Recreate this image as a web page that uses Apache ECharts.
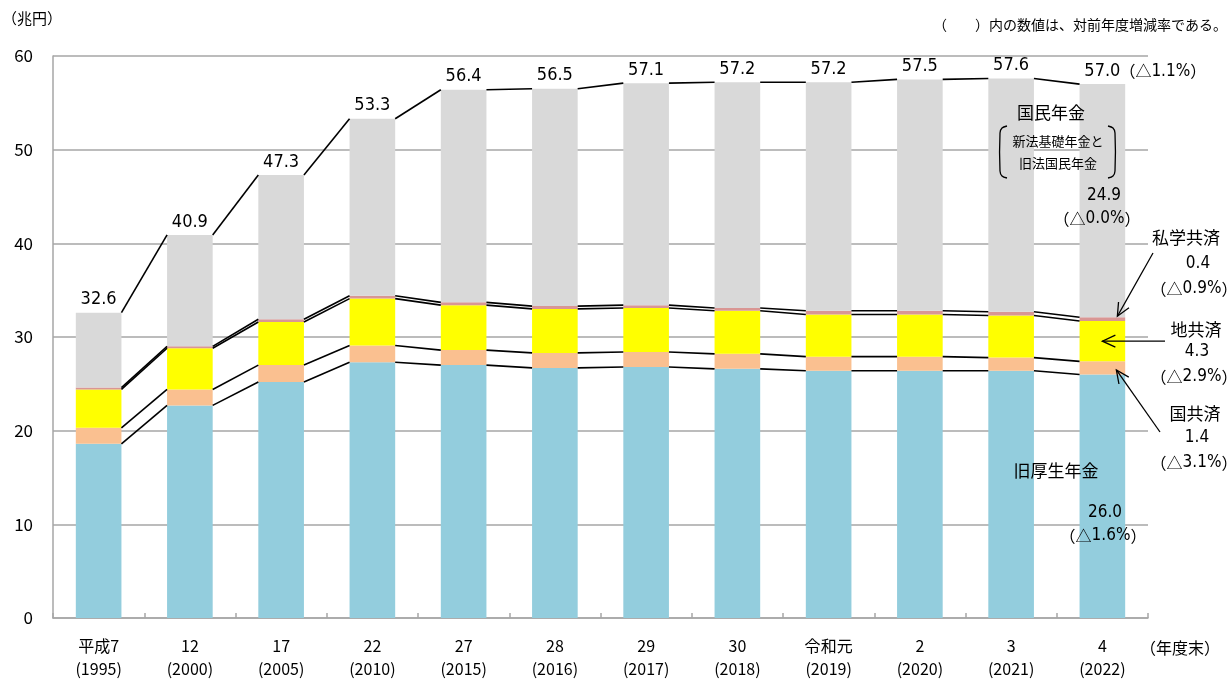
<!DOCTYPE html>
<html>
<head>
<meta charset="utf-8">
<script src="https://cdn.jsdelivr.net/npm/echarts@6/dist/echarts.min.js"></script>
<style>
  html, body { margin: 0; padding: 0; background: #fff; }
  #chart { width: 1232px; height: 680px; }
</style>
</head>
<body>
<div id="chart"></div>
<script>
// 年度末の公的年金 年金総額（兆円）
const categories = [
  '平成7\n(1995)', '12\n(2000)', '17\n(2005)', '22\n(2010)', '27\n(2015)', '28\n(2016)',
  '29\n(2017)', '30\n(2018)', '令和元\n(2019)', '2\n(2020)', '3\n(2021)', '4\n(2022)'
];
const kyuKosei      = [18.6, 22.7, 25.2, 27.3, 27.0, 26.7, 26.8, 26.6, 26.4, 26.4, 26.4, 26.0];
const kokuKyosai    = [1.7, 1.7, 1.8, 1.8, 1.6, 1.6, 1.6, 1.6, 1.5, 1.5, 1.4, 1.4];
const chiKyosai     = [4.1, 4.4, 4.6, 5.0, 4.8, 4.7, 4.7, 4.6, 4.5, 4.5, 4.5, 4.3];
const shigakuKyosai = [0.2, 0.2, 0.3, 0.3, 0.3, 0.3, 0.3, 0.3, 0.4, 0.4, 0.4, 0.4];
const kokuminNenkin = [8.0, 11.9, 15.4, 18.9, 22.7, 23.2, 23.7, 24.1, 24.4, 24.7, 24.9, 24.9];
// 対前年度増減率（最新年度、△は減少）
const changeTotal = '1.1%';
const changeKokumin = '0.0%';
const changeShigaku = '0.9%';
const changeChi = '2.9%';
const changeKoku = '3.1%';
const changeKyuKosei = '1.6%';
const yTickStep = 10;

const CJK = "'Noto Sans CJK JP', sans-serif";
const NARROW = "'Liberation Sans Narrow', 'Arial Narrow', 'DejaVu Sans Condensed', 'Noto Sans CJK JP', sans-serif";
const GRID_COLOR = '#a6a6a6';

const layers = [
  { name: '旧厚生年金', data: kyuKosei, color: '#93CDDD' },
  { name: '国共済', data: kokuKyosai, color: '#FAC090' },
  { name: '地共済', data: chiKyosai, color: '#FFFF00' },
  { name: '私学共済', data: shigakuKyosai, color: '#D99694' },
  { name: '国民年金', data: kokuminNenkin, color: '#D9D9D9' }
];

const n = categories.length;
const totals = categories.map((_, i) => layers.reduce((s, l) => s + l.data[i], 0));

// 各区分の上端を隣の棒と結ぶ線
const connectors = [];
let cum = categories.map(() => 0);
layers.forEach(l => {
  cum = cum.map((c, i) => c + l.data[i]);
  for (let i = 0; i < n - 1; i++) connectors.push([i, cum[i], cum[i + 1]]);
});

const barSeries = layers.map((l, k) => ({
  type: 'bar',
  name: l.name,
  stack: 'total',
  data: l.data,
  barWidth: '50%',
  itemStyle: { color: l.color },
  z: 2,
  label: k === layers.length - 1 ? {
    show: true,
    position: 'top',
    distance: 4,
    color: '#000',
    fontSize: 18,
    fontFamily: NARROW,
    formatter: p => totals[p.dataIndex].toFixed(1)
  } : { show: false }
}));

const chart = echarts.init(document.getElementById('chart'), null, { renderer: 'canvas' });

chart.setOption({
  animation: false,
  backgroundColor: '#fff',
  grid: { left: 53, right: 84, top: 56, bottom: 60, containLabel: false },
  xAxis: {
    type: 'category',
    data: categories,
    boundaryGap: true,
    axisLine: { lineStyle: { color: GRID_COLOR, width: 1.5 } },
    axisTick: { show: true, inside: true, length: 5, interval: 0, lineStyle: { color: GRID_COLOR, width: 1.5 } },
    axisLabel: { interval: 0, margin: 16, fontSize: 16, lineHeight: 23, color: '#000', fontFamily: CJK }
  },
  yAxis: {
    type: 'value',
    min: 0,
    max: 60,
    interval: yTickStep,
    axisLine: { show: true, lineStyle: { color: GRID_COLOR, width: 1.5 } },
    axisTick: { show: false },
    splitLine: { show: true, lineStyle: { color: GRID_COLOR, width: 1.5 } },
    axisLabel: { margin: 20, fontSize: 17, color: '#000', fontFamily: CJK }
  },
  series: barSeries.concat([{
    type: 'custom',
    name: 'connectors',
    data: connectors,
    encode: { x: 0, y: 1 },
    z: 5,
    silent: true,
    renderItem: (params, api) => {
      const i = api.value(0);
      const a = api.coord([i, api.value(1)]);
      const b = api.coord([i + 1, api.value(2)]);
      const half = api.size([1, 0])[0] * 0.25;
      return {
        type: 'line',
        shape: { x1: a[0] + half, y1: a[1], x2: b[0] - half, y2: b[1] },
        style: { stroke: '#000', lineWidth: 1.6 }
      };
    }
  }])
});

// 注記（右側の説明と矢印）
const last = n - 1;
const px = v => chart.convertToPixel({ gridIndex: 0 }, [last, v]);
const cx = px(0)[0];
const peachMid = kyuKosei[last] + kokuKyosai[last] / 2;
const yellowMid = kyuKosei[last] + kokuKyosai[last] + chiKyosai[last] / 2;
const pinkMid = kyuKosei[last] + kokuKyosai[last] + chiKyosai[last] + shigakuKyosai[last] / 2;

function txt(text, x, y, size, font, align) {
  return {
    type: 'text', x: x, y: y, z: 20,
    style: { text: text, fontSize: size, fontFamily: font, fill: '#000', align: align || 'center', verticalAlign: 'middle' }
  };
}

// 「（△x.x%）」の表記：括弧と△は全角書体、数字は細身の書体
function pct(value, x, y, align) {
  return {
    type: 'text', x: x, y: y, z: 20,
    style: {
      text: '{c|（△}{d|' + value + '}{c|）}',
      align: align || 'center', verticalAlign: 'middle', fill: '#000',
      rich: {
        c: { fontSize: 16, fontFamily: CJK, fill: '#000' },
        d: { fontSize: 17, fontFamily: NARROW, fill: '#000' }
      }
    }
  };
}

function arrow(from, to) {
  const dx = to[0] - from[0], dy = to[1] - from[1];
  const len = Math.sqrt(dx * dx + dy * dy);
  const ux = dx / len, uy = dy / len;
  const hl = 13, hw = 6;
  const bx = to[0] - ux * hl, by = to[1] - uy * hl;
  return [
    { type: 'line', z: 20, shape: { x1: from[0], y1: from[1], x2: to[0], y2: to[1] }, style: { stroke: '#000', lineWidth: 1.3 } },
    { type: 'polyline', z: 20, shape: { points: [[bx - uy * hw, by + ux * hw], to, [bx + uy * hw, by - ux * hw]] }, style: { stroke: '#000', lineWidth: 1.3, fill: null } }
  ];
}

const topLabelPos = px(totals[last]);
const graphics = [
  txt('（兆円）', 2, 18, 15, CJK, 'left'),
  txt('（　　）内の数値は、対前年度増減率である。', 1227, 25, 14, CJK, 'right'),
  txt('（年度末）', 1140, 648, 16, CJK, 'left'),
  pct(changeTotal, cx + 17, topLabelPos[1] - 13, 'left'),

  txt('国民年金', 1051, 113, 17, CJK),
  txt('新法基礎年金と', 1058, 141, 13, CJK),
  txt('旧法国民年金', 1058, 163, 13, CJK),
  { type: 'polyline', z: 20, shape: { points: [[1007, 126], [1002, 128], [1000, 133], [1000, 171], [1002, 176], [1007, 178]], smooth: 0.3 }, style: { stroke: '#000', lineWidth: 1.3, fill: null } },
  { type: 'polyline', z: 20, shape: { points: [[1108, 126], [1113, 128], [1115, 133], [1115, 171], [1113, 176], [1108, 178]], smooth: 0.3 }, style: { stroke: '#000', lineWidth: 1.3, fill: null } },
  txt(kokuminNenkin[last].toFixed(1), 1104, 196, 17, NARROW),
  pct(changeKokumin, 1097, 219),

  txt('私学共済', 1186, 238, 17, CJK),
  txt(shigakuKyosai[last].toFixed(1), 1198, 264, 17, NARROW),
  pct(changeShigaku, 1194, 289),

  txt('地共済', 1196, 330, 17, CJK),
  txt(chiKyosai[last].toFixed(1), 1197, 352, 17, NARROW),
  pct(changeChi, 1194, 377),

  txt('国共済', 1195, 414, 17, CJK),
  txt(kokuKyosai[last].toFixed(1), 1197, 438, 17, NARROW),
  pct(changeKoku, 1194, 463),

  txt('旧厚生年金', 1056, 471, 17, CJK),
  txt(kyuKosei[last].toFixed(1), 1105, 513, 17, NARROW),
  pct(changeKyuKosei, 1103, 536)
]
  .concat(arrow([1153, 253], [cx + 15, px(pinkMid)[1] - 3]))
  .concat(arrow([1165, px(yellowMid)[1]], [cx, px(yellowMid)[1]]))
  .concat(arrow([1160, 432], [cx + 14, px(peachMid)[1] + 2]));

chart.setOption({ graphic: graphics });
</script>
</body>
</html>
